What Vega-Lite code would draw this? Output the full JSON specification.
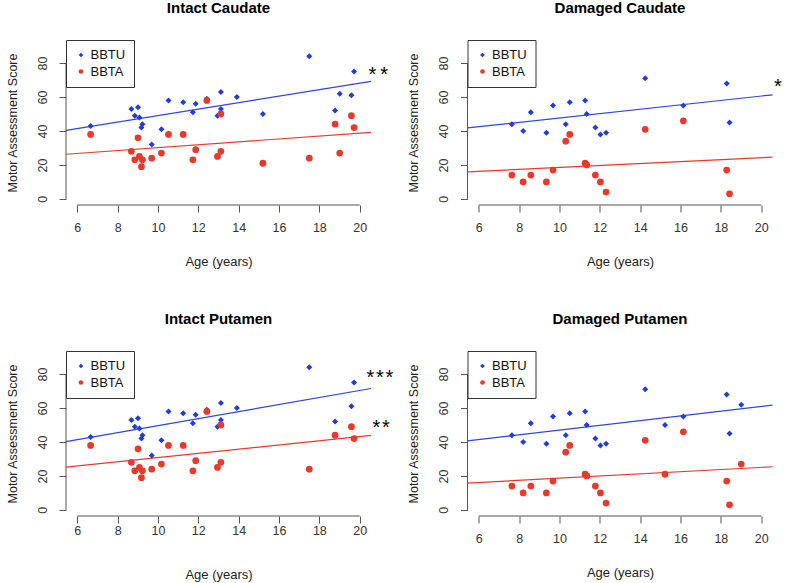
{
  "$schema": "https://vega.github.io/schema/vega-lite/v6.json",
  "padding": {"left": 5, "top": 1, "right": 2, "bottom": 2},
  "background": "white",
  "datasets": {
    "pts": [
      {"panel": "Intact Caudate", "group": "BBTU", "age": 6.66, "score": 43},
      {"panel": "Intact Caudate", "group": "BBTU", "age": 8.68, "score": 53},
      {"panel": "Intact Caudate", "group": "BBTU", "age": 8.85, "score": 49},
      {"panel": "Intact Caudate", "group": "BBTU", "age": 9.01, "score": 54},
      {"panel": "Intact Caudate", "group": "BBTU", "age": 9.08, "score": 48},
      {"panel": "Intact Caudate", "group": "BBTU", "age": 9.18, "score": 42},
      {"panel": "Intact Caudate", "group": "BBTU", "age": 9.23, "score": 44},
      {"panel": "Intact Caudate", "group": "BBTU", "age": 9.69, "score": 32},
      {"panel": "Intact Caudate", "group": "BBTU", "age": 10.17, "score": 41},
      {"panel": "Intact Caudate", "group": "BBTU", "age": 10.52, "score": 58},
      {"panel": "Intact Caudate", "group": "BBTU", "age": 11.25, "score": 57},
      {"panel": "Intact Caudate", "group": "BBTU", "age": 11.73, "score": 51},
      {"panel": "Intact Caudate", "group": "BBTU", "age": 11.87, "score": 56},
      {"panel": "Intact Caudate", "group": "BBTU", "age": 12.42, "score": 59},
      {"panel": "Intact Caudate", "group": "BBTU", "age": 12.95, "score": 49},
      {"panel": "Intact Caudate", "group": "BBTU", "age": 13.12, "score": 63},
      {"panel": "Intact Caudate", "group": "BBTU", "age": 13.12, "score": 53},
      {"panel": "Intact Caudate", "group": "BBTU", "age": 13.91, "score": 60},
      {"panel": "Intact Caudate", "group": "BBTU", "age": 15.2, "score": 50},
      {"panel": "Intact Caudate", "group": "BBTU", "age": 17.5, "score": 84},
      {"panel": "Intact Caudate", "group": "BBTU", "age": 18.78, "score": 52},
      {"panel": "Intact Caudate", "group": "BBTU", "age": 19.01, "score": 62},
      {"panel": "Intact Caudate", "group": "BBTU", "age": 19.59, "score": 61},
      {"panel": "Intact Caudate", "group": "BBTU", "age": 19.72, "score": 75},
      {"panel": "Intact Caudate", "group": "BBTA", "age": 6.66, "score": 38},
      {"panel": "Intact Caudate", "group": "BBTA", "age": 8.68, "score": 28},
      {"panel": "Intact Caudate", "group": "BBTA", "age": 8.85, "score": 23},
      {"panel": "Intact Caudate", "group": "BBTA", "age": 9.01, "score": 36},
      {"panel": "Intact Caudate", "group": "BBTA", "age": 9.08, "score": 25},
      {"panel": "Intact Caudate", "group": "BBTA", "age": 9.18, "score": 19},
      {"panel": "Intact Caudate", "group": "BBTA", "age": 9.23, "score": 23},
      {"panel": "Intact Caudate", "group": "BBTA", "age": 9.69, "score": 24},
      {"panel": "Intact Caudate", "group": "BBTA", "age": 10.17, "score": 27},
      {"panel": "Intact Caudate", "group": "BBTA", "age": 10.52, "score": 38},
      {"panel": "Intact Caudate", "group": "BBTA", "age": 11.25, "score": 38},
      {"panel": "Intact Caudate", "group": "BBTA", "age": 11.73, "score": 23},
      {"panel": "Intact Caudate", "group": "BBTA", "age": 11.87, "score": 29},
      {"panel": "Intact Caudate", "group": "BBTA", "age": 12.42, "score": 58},
      {"panel": "Intact Caudate", "group": "BBTA", "age": 12.95, "score": 25},
      {"panel": "Intact Caudate", "group": "BBTA", "age": 13.12, "score": 50},
      {"panel": "Intact Caudate", "group": "BBTA", "age": 13.12, "score": 28},
      {"panel": "Intact Caudate", "group": "BBTA", "age": 15.2, "score": 21},
      {"panel": "Intact Caudate", "group": "BBTA", "age": 17.5, "score": 24},
      {"panel": "Intact Caudate", "group": "BBTA", "age": 18.78, "score": 44},
      {"panel": "Intact Caudate", "group": "BBTA", "age": 19.01, "score": 27},
      {"panel": "Intact Caudate", "group": "BBTA", "age": 19.59, "score": 49},
      {"panel": "Intact Caudate", "group": "BBTA", "age": 19.72, "score": 42},

      {"panel": "Damaged Caudate", "group": "BBTU", "age": 7.64, "score": 44},
      {"panel": "Damaged Caudate", "group": "BBTU", "age": 8.2, "score": 40},
      {"panel": "Damaged Caudate", "group": "BBTU", "age": 8.58, "score": 51},
      {"panel": "Damaged Caudate", "group": "BBTU", "age": 9.35, "score": 39},
      {"panel": "Damaged Caudate", "group": "BBTU", "age": 9.68, "score": 55},
      {"panel": "Damaged Caudate", "group": "BBTU", "age": 10.31, "score": 44},
      {"panel": "Damaged Caudate", "group": "BBTU", "age": 10.51, "score": 57},
      {"panel": "Damaged Caudate", "group": "BBTU", "age": 11.27, "score": 58},
      {"panel": "Damaged Caudate", "group": "BBTU", "age": 11.35, "score": 50},
      {"panel": "Damaged Caudate", "group": "BBTU", "age": 11.78, "score": 42},
      {"panel": "Damaged Caudate", "group": "BBTU", "age": 12.03, "score": 38},
      {"panel": "Damaged Caudate", "group": "BBTU", "age": 12.31, "score": 39},
      {"panel": "Damaged Caudate", "group": "BBTU", "age": 14.25, "score": 71},
      {"panel": "Damaged Caudate", "group": "BBTU", "age": 16.14, "score": 55},
      {"panel": "Damaged Caudate", "group": "BBTU", "age": 18.29, "score": 68},
      {"panel": "Damaged Caudate", "group": "BBTU", "age": 18.43, "score": 45},
      {"panel": "Damaged Caudate", "group": "BBTA", "age": 7.64, "score": 14},
      {"panel": "Damaged Caudate", "group": "BBTA", "age": 8.2, "score": 10},
      {"panel": "Damaged Caudate", "group": "BBTA", "age": 8.58, "score": 14},
      {"panel": "Damaged Caudate", "group": "BBTA", "age": 9.35, "score": 10},
      {"panel": "Damaged Caudate", "group": "BBTA", "age": 9.68, "score": 17},
      {"panel": "Damaged Caudate", "group": "BBTA", "age": 10.31, "score": 34},
      {"panel": "Damaged Caudate", "group": "BBTA", "age": 10.51, "score": 38},
      {"panel": "Damaged Caudate", "group": "BBTA", "age": 11.27, "score": 21},
      {"panel": "Damaged Caudate", "group": "BBTA", "age": 11.35, "score": 20},
      {"panel": "Damaged Caudate", "group": "BBTA", "age": 11.78, "score": 14},
      {"panel": "Damaged Caudate", "group": "BBTA", "age": 12.03, "score": 10},
      {"panel": "Damaged Caudate", "group": "BBTA", "age": 12.31, "score": 4},
      {"panel": "Damaged Caudate", "group": "BBTA", "age": 14.25, "score": 41},
      {"panel": "Damaged Caudate", "group": "BBTA", "age": 16.14, "score": 46},
      {"panel": "Damaged Caudate", "group": "BBTA", "age": 18.29, "score": 17},
      {"panel": "Damaged Caudate", "group": "BBTA", "age": 18.43, "score": 3},

      {"panel": "Intact Putamen", "group": "BBTU", "age": 6.66, "score": 43},
      {"panel": "Intact Putamen", "group": "BBTU", "age": 8.68, "score": 53},
      {"panel": "Intact Putamen", "group": "BBTU", "age": 8.85, "score": 49},
      {"panel": "Intact Putamen", "group": "BBTU", "age": 9.01, "score": 54},
      {"panel": "Intact Putamen", "group": "BBTU", "age": 9.08, "score": 48},
      {"panel": "Intact Putamen", "group": "BBTU", "age": 9.18, "score": 42},
      {"panel": "Intact Putamen", "group": "BBTU", "age": 9.23, "score": 44},
      {"panel": "Intact Putamen", "group": "BBTU", "age": 9.69, "score": 32},
      {"panel": "Intact Putamen", "group": "BBTU", "age": 10.17, "score": 41},
      {"panel": "Intact Putamen", "group": "BBTU", "age": 10.52, "score": 58},
      {"panel": "Intact Putamen", "group": "BBTU", "age": 11.25, "score": 57},
      {"panel": "Intact Putamen", "group": "BBTU", "age": 11.73, "score": 51},
      {"panel": "Intact Putamen", "group": "BBTU", "age": 11.87, "score": 56},
      {"panel": "Intact Putamen", "group": "BBTU", "age": 12.42, "score": 59},
      {"panel": "Intact Putamen", "group": "BBTU", "age": 12.95, "score": 49},
      {"panel": "Intact Putamen", "group": "BBTU", "age": 13.12, "score": 63},
      {"panel": "Intact Putamen", "group": "BBTU", "age": 13.12, "score": 53},
      {"panel": "Intact Putamen", "group": "BBTU", "age": 13.91, "score": 60},
      {"panel": "Intact Putamen", "group": "BBTU", "age": 17.5, "score": 84},
      {"panel": "Intact Putamen", "group": "BBTU", "age": 18.78, "score": 52},
      {"panel": "Intact Putamen", "group": "BBTU", "age": 19.59, "score": 61},
      {"panel": "Intact Putamen", "group": "BBTU", "age": 19.72, "score": 75},
      {"panel": "Intact Putamen", "group": "BBTA", "age": 6.66, "score": 38},
      {"panel": "Intact Putamen", "group": "BBTA", "age": 8.68, "score": 28},
      {"panel": "Intact Putamen", "group": "BBTA", "age": 8.85, "score": 23},
      {"panel": "Intact Putamen", "group": "BBTA", "age": 9.01, "score": 36},
      {"panel": "Intact Putamen", "group": "BBTA", "age": 9.08, "score": 25},
      {"panel": "Intact Putamen", "group": "BBTA", "age": 9.18, "score": 19},
      {"panel": "Intact Putamen", "group": "BBTA", "age": 9.23, "score": 23},
      {"panel": "Intact Putamen", "group": "BBTA", "age": 9.69, "score": 24},
      {"panel": "Intact Putamen", "group": "BBTA", "age": 10.17, "score": 27},
      {"panel": "Intact Putamen", "group": "BBTA", "age": 10.52, "score": 38},
      {"panel": "Intact Putamen", "group": "BBTA", "age": 11.25, "score": 38},
      {"panel": "Intact Putamen", "group": "BBTA", "age": 11.73, "score": 23},
      {"panel": "Intact Putamen", "group": "BBTA", "age": 11.87, "score": 29},
      {"panel": "Intact Putamen", "group": "BBTA", "age": 12.42, "score": 58},
      {"panel": "Intact Putamen", "group": "BBTA", "age": 12.95, "score": 25},
      {"panel": "Intact Putamen", "group": "BBTA", "age": 13.12, "score": 50},
      {"panel": "Intact Putamen", "group": "BBTA", "age": 13.12, "score": 28},
      {"panel": "Intact Putamen", "group": "BBTA", "age": 17.5, "score": 24},
      {"panel": "Intact Putamen", "group": "BBTA", "age": 18.78, "score": 44},
      {"panel": "Intact Putamen", "group": "BBTA", "age": 19.59, "score": 49},
      {"panel": "Intact Putamen", "group": "BBTA", "age": 19.72, "score": 42},

      {"panel": "Damaged Putamen", "group": "BBTU", "age": 7.64, "score": 44},
      {"panel": "Damaged Putamen", "group": "BBTU", "age": 8.2, "score": 40},
      {"panel": "Damaged Putamen", "group": "BBTU", "age": 8.58, "score": 51},
      {"panel": "Damaged Putamen", "group": "BBTU", "age": 9.35, "score": 39},
      {"panel": "Damaged Putamen", "group": "BBTU", "age": 9.68, "score": 55},
      {"panel": "Damaged Putamen", "group": "BBTU", "age": 10.31, "score": 44},
      {"panel": "Damaged Putamen", "group": "BBTU", "age": 10.51, "score": 57},
      {"panel": "Damaged Putamen", "group": "BBTU", "age": 11.27, "score": 58},
      {"panel": "Damaged Putamen", "group": "BBTU", "age": 11.35, "score": 50},
      {"panel": "Damaged Putamen", "group": "BBTU", "age": 11.78, "score": 42},
      {"panel": "Damaged Putamen", "group": "BBTU", "age": 12.03, "score": 38},
      {"panel": "Damaged Putamen", "group": "BBTU", "age": 12.31, "score": 39},
      {"panel": "Damaged Putamen", "group": "BBTU", "age": 14.25, "score": 71},
      {"panel": "Damaged Putamen", "group": "BBTU", "age": 15.23, "score": 50},
      {"panel": "Damaged Putamen", "group": "BBTU", "age": 16.14, "score": 55},
      {"panel": "Damaged Putamen", "group": "BBTU", "age": 18.29, "score": 68},
      {"panel": "Damaged Putamen", "group": "BBTU", "age": 18.43, "score": 45},
      {"panel": "Damaged Putamen", "group": "BBTU", "age": 19.01, "score": 62},
      {"panel": "Damaged Putamen", "group": "BBTA", "age": 7.64, "score": 14},
      {"panel": "Damaged Putamen", "group": "BBTA", "age": 8.2, "score": 10},
      {"panel": "Damaged Putamen", "group": "BBTA", "age": 8.58, "score": 14},
      {"panel": "Damaged Putamen", "group": "BBTA", "age": 9.35, "score": 10},
      {"panel": "Damaged Putamen", "group": "BBTA", "age": 9.68, "score": 17},
      {"panel": "Damaged Putamen", "group": "BBTA", "age": 10.31, "score": 34},
      {"panel": "Damaged Putamen", "group": "BBTA", "age": 10.51, "score": 38},
      {"panel": "Damaged Putamen", "group": "BBTA", "age": 11.27, "score": 21},
      {"panel": "Damaged Putamen", "group": "BBTA", "age": 11.35, "score": 20},
      {"panel": "Damaged Putamen", "group": "BBTA", "age": 11.78, "score": 14},
      {"panel": "Damaged Putamen", "group": "BBTA", "age": 12.03, "score": 10},
      {"panel": "Damaged Putamen", "group": "BBTA", "age": 12.31, "score": 4},
      {"panel": "Damaged Putamen", "group": "BBTA", "age": 14.25, "score": 41},
      {"panel": "Damaged Putamen", "group": "BBTA", "age": 15.23, "score": 21},
      {"panel": "Damaged Putamen", "group": "BBTA", "age": 16.14, "score": 46},
      {"panel": "Damaged Putamen", "group": "BBTA", "age": 18.29, "score": 17},
      {"panel": "Damaged Putamen", "group": "BBTA", "age": 18.43, "score": 3},
      {"panel": "Damaged Putamen", "group": "BBTA", "age": 19.01, "score": 27}
    ],
    "lines": [
      {"panel": "Intact Caudate", "group": "BBTU", "age": 5.44, "score": 40.4},
      {"panel": "Intact Caudate", "group": "BBTU", "age": 20.56, "score": 69.2},
      {"panel": "Intact Caudate", "group": "BBTA", "age": 5.44, "score": 26.3},
      {"panel": "Intact Caudate", "group": "BBTA", "age": 20.56, "score": 39.2},
      {"panel": "Damaged Caudate", "group": "BBTU", "age": 5.44, "score": 41.8},
      {"panel": "Damaged Caudate", "group": "BBTU", "age": 20.56, "score": 61.3},
      {"panel": "Damaged Caudate", "group": "BBTA", "age": 5.44, "score": 15.9},
      {"panel": "Damaged Caudate", "group": "BBTA", "age": 20.56, "score": 24.6},
      {"panel": "Intact Putamen", "group": "BBTU", "age": 5.44, "score": 40.2},
      {"panel": "Intact Putamen", "group": "BBTU", "age": 20.56, "score": 71.5},
      {"panel": "Intact Putamen", "group": "BBTA", "age": 5.44, "score": 25.2},
      {"panel": "Intact Putamen", "group": "BBTA", "age": 20.56, "score": 43.9},
      {"panel": "Damaged Putamen", "group": "BBTU", "age": 5.44, "score": 40.6},
      {"panel": "Damaged Putamen", "group": "BBTU", "age": 20.56, "score": 61.7},
      {"panel": "Damaged Putamen", "group": "BBTA", "age": 5.44, "score": 15.8},
      {"panel": "Damaged Putamen", "group": "BBTA", "age": 20.56, "score": 25.4}
    ],
    "stars": [
      {"panel": "Intact Caudate", "label": "*\u2009*", "age": 20.92, "score": 69.2},
      {"panel": "Damaged Caudate", "label": "*", "age": 20.83, "score": 62.5},
      {"panel": "Intact Putamen", "label": "*\u200a*\u200a*", "age": 21.0, "score": 74.3},
      {"panel": "Intact Putamen", "label": "*\u200a*", "age": 21.06, "score": 44.5}
    ]
  },
  "columns": 2,
  "spacing": {"row": 146, "column": 96.5},
  "bounds": "flush",
  "resolve": {
    "scale": {"x": "independent", "y": "independent", "color": "independent", "shape": "independent"},
    "legend": {"color": "independent", "shape": "independent"}
  },
  "concat": [
    {
      "width": 305, "height": 165,
      "title": "Intact Caudate",
      "layer": [
        {"data": {"values": [{}]}, "mark": {"type": "rule", "color": "#555", "strokeWidth": 1},
         "encoding": {"x": {"datum": 6, "type": "quantitative", "scale": {"domain": [5.44, 20.56], "nice": false, "zero": false}, "axis": {"title": "Age (years)", "values": [6, 8, 10, 12, 14, 16, 18, 20]}}, "x2": {"datum": 20}, "y": {"datum": -3.6, "type": "quantitative", "scale": {"domain": [-3.6, 93.6], "nice": false, "zero": false}, "axis": {"title": "Motor Assessment Score", "values": [0, 20, 40, 60, 80]}}}},
        {"data": {"values": [{}]}, "mark": {"type": "rule", "color": "#555", "strokeWidth": 1},
         "encoding": {"x": {"datum": 5.44, "type": "quantitative"}, "y": {"datum": 0, "type": "quantitative"}, "y2": {"datum": 80}}},
        {"data": {"name": "lines"}, "transform": [{"filter": "datum.panel === 'Intact Caudate'"}],
         "mark": {"type": "line", "strokeWidth": 1.2},
         "encoding": {"x": {"field": "age", "type": "quantitative"}, "y": {"field": "score", "type": "quantitative"}, "detail": {"field": "group"},
           "color": {"condition": {"test": "datum.group === 'BBTU'", "value": "#2f45e0"}, "value": "#e63a2c"}}},
        {"data": {"name": "pts"}, "transform": [{"filter": "datum.panel === 'Intact Caudate'"}],
         "mark": {"type": "point", "filled": true, "opacity": 1, "strokeWidth": 0},
         "encoding": {"x": {"field": "age", "type": "quantitative"}, "y": {"field": "score", "type": "quantitative"},
           "color": {"field": "group", "type": "nominal", "scale": {"domain": ["BBTU", "BBTA"], "range": ["#1f3ae6", "#e8392b"]}, "legend": {"title": null}},
           "shape": {"field": "group", "type": "nominal", "scale": {"domain": ["BBTU", "BBTA"], "range": ["diamond", "circle"]}, "legend": {"title": null}},
           "size": {"condition": {"test": "datum.group === 'BBTU'", "value": 36}, "value": 46}}},
        {"data": {"name": "stars"}, "transform": [{"filter": "datum.panel === 'Intact Caudate'"}],
         "mark": {"type": "text", "fontSize": 20, "align": "center", "baseline": "alphabetic", "color": "#000"},
         "encoding": {"x": {"field": "age", "type": "quantitative"}, "y": {"field": "score", "type": "quantitative"}, "text": {"field": "label"}}}
      ]
    },
    {
      "width": 305, "height": 165,
      "title": "Damaged Caudate",
      "layer": [
        {"data": {"values": [{}]}, "mark": {"type": "rule", "color": "#555", "strokeWidth": 1},
         "encoding": {"x": {"datum": 6, "type": "quantitative", "scale": {"domain": [5.44, 20.56], "nice": false, "zero": false}, "axis": {"title": "Age (years)", "values": [6, 8, 10, 12, 14, 16, 18, 20]}}, "x2": {"datum": 20}, "y": {"datum": -3.6, "type": "quantitative", "scale": {"domain": [-3.6, 93.6], "nice": false, "zero": false}, "axis": {"title": "Motor Assessment Score", "values": [0, 20, 40, 60, 80]}}}},
        {"data": {"values": [{}]}, "mark": {"type": "rule", "color": "#555", "strokeWidth": 1},
         "encoding": {"x": {"datum": 5.44, "type": "quantitative"}, "y": {"datum": 0, "type": "quantitative"}, "y2": {"datum": 80}}},
        {"data": {"name": "lines"}, "transform": [{"filter": "datum.panel === 'Damaged Caudate'"}],
         "mark": {"type": "line", "strokeWidth": 1.2},
         "encoding": {"x": {"field": "age", "type": "quantitative"}, "y": {"field": "score", "type": "quantitative"}, "detail": {"field": "group"},
           "color": {"condition": {"test": "datum.group === 'BBTU'", "value": "#2f45e0"}, "value": "#e63a2c"}}},
        {"data": {"name": "pts"}, "transform": [{"filter": "datum.panel === 'Damaged Caudate'"}],
         "mark": {"type": "point", "filled": true, "opacity": 1, "strokeWidth": 0},
         "encoding": {"x": {"field": "age", "type": "quantitative"}, "y": {"field": "score", "type": "quantitative"},
           "color": {"field": "group", "type": "nominal", "scale": {"domain": ["BBTU", "BBTA"], "range": ["#1f3ae6", "#e8392b"]}, "legend": {"title": null}},
           "shape": {"field": "group", "type": "nominal", "scale": {"domain": ["BBTU", "BBTA"], "range": ["diamond", "circle"]}, "legend": {"title": null}},
           "size": {"condition": {"test": "datum.group === 'BBTU'", "value": 36}, "value": 46}}},
        {"data": {"name": "stars"}, "transform": [{"filter": "datum.panel === 'Damaged Caudate'"}],
         "mark": {"type": "text", "fontSize": 20, "align": "center", "baseline": "alphabetic", "color": "#000"},
         "encoding": {"x": {"field": "age", "type": "quantitative"}, "y": {"field": "score", "type": "quantitative"}, "text": {"field": "label"}}}
      ]
    },
    {
      "width": 305, "height": 165,
      "title": "Intact Putamen",
      "layer": [
        {"data": {"values": [{}]}, "mark": {"type": "rule", "color": "#555", "strokeWidth": 1},
         "encoding": {"x": {"datum": 6, "type": "quantitative", "scale": {"domain": [5.44, 20.56], "nice": false, "zero": false}, "axis": {"title": "Age (years)", "values": [6, 8, 10, 12, 14, 16, 18, 20], "labelPadding": 1.6, "titlePadding": 31}}, "x2": {"datum": 20}, "y": {"datum": -3.6, "type": "quantitative", "scale": {"domain": [-3.6, 93.6], "nice": false, "zero": false}, "axis": {"title": "Motor Assessment Score", "values": [0, 20, 40, 60, 80]}}}},
        {"data": {"values": [{}]}, "mark": {"type": "rule", "color": "#555", "strokeWidth": 1},
         "encoding": {"x": {"datum": 5.44, "type": "quantitative"}, "y": {"datum": 0, "type": "quantitative"}, "y2": {"datum": 80}}},
        {"data": {"name": "lines"}, "transform": [{"filter": "datum.panel === 'Intact Putamen'"}],
         "mark": {"type": "line", "strokeWidth": 1.2},
         "encoding": {"x": {"field": "age", "type": "quantitative"}, "y": {"field": "score", "type": "quantitative"}, "detail": {"field": "group"},
           "color": {"condition": {"test": "datum.group === 'BBTU'", "value": "#2f45e0"}, "value": "#e63a2c"}}},
        {"data": {"name": "pts"}, "transform": [{"filter": "datum.panel === 'Intact Putamen'"}],
         "mark": {"type": "point", "filled": true, "opacity": 1, "strokeWidth": 0},
         "encoding": {"x": {"field": "age", "type": "quantitative"}, "y": {"field": "score", "type": "quantitative"},
           "color": {"field": "group", "type": "nominal", "scale": {"domain": ["BBTU", "BBTA"], "range": ["#1f3ae6", "#e8392b"]}, "legend": {"title": null}},
           "shape": {"field": "group", "type": "nominal", "scale": {"domain": ["BBTU", "BBTA"], "range": ["diamond", "circle"]}, "legend": {"title": null}},
           "size": {"condition": {"test": "datum.group === 'BBTU'", "value": 36}, "value": 46}}},
        {"data": {"name": "stars"}, "transform": [{"filter": "datum.panel === 'Intact Putamen'"}],
         "mark": {"type": "text", "fontSize": 20, "align": "center", "baseline": "alphabetic", "color": "#000"},
         "encoding": {"x": {"field": "age", "type": "quantitative"}, "y": {"field": "score", "type": "quantitative"}, "text": {"field": "label"}}}
      ]
    },
    {
      "width": 305, "height": 165,
      "title": "Damaged Putamen",
      "layer": [
        {"data": {"values": [{}]}, "mark": {"type": "rule", "color": "#555", "strokeWidth": 1},
         "encoding": {"x": {"datum": 6, "type": "quantitative", "scale": {"domain": [5.44, 20.56], "nice": false, "zero": false}, "axis": {"title": "Age (years)", "values": [6, 8, 10, 12, 14, 16, 18, 20]}}, "x2": {"datum": 20}, "y": {"datum": -3.6, "type": "quantitative", "scale": {"domain": [-3.6, 93.6], "nice": false, "zero": false}, "axis": {"title": "Motor Assessment Score", "values": [0, 20, 40, 60, 80]}}}},
        {"data": {"values": [{}]}, "mark": {"type": "rule", "color": "#555", "strokeWidth": 1},
         "encoding": {"x": {"datum": 5.44, "type": "quantitative"}, "y": {"datum": 0, "type": "quantitative"}, "y2": {"datum": 80}}},
        {"data": {"name": "lines"}, "transform": [{"filter": "datum.panel === 'Damaged Putamen'"}],
         "mark": {"type": "line", "strokeWidth": 1.2},
         "encoding": {"x": {"field": "age", "type": "quantitative"}, "y": {"field": "score", "type": "quantitative"}, "detail": {"field": "group"},
           "color": {"condition": {"test": "datum.group === 'BBTU'", "value": "#2f45e0"}, "value": "#e63a2c"}}},
        {"data": {"name": "pts"}, "transform": [{"filter": "datum.panel === 'Damaged Putamen'"}],
         "mark": {"type": "point", "filled": true, "opacity": 1, "strokeWidth": 0},
         "encoding": {"x": {"field": "age", "type": "quantitative"}, "y": {"field": "score", "type": "quantitative"},
           "color": {"field": "group", "type": "nominal", "scale": {"domain": ["BBTU", "BBTA"], "range": ["#1f3ae6", "#e8392b"]}, "legend": {"title": null}},
           "shape": {"field": "group", "type": "nominal", "scale": {"domain": ["BBTU", "BBTA"], "range": ["diamond", "circle"]}, "legend": {"title": null}},
           "size": {"condition": {"test": "datum.group === 'BBTU'", "value": 36}, "value": 46}}}
      ]
    }
  ],
  "config": {
    "font": "Liberation Sans",
    "view": {"stroke": null},
    "axis": {"domain": false, "grid": false, "ticks": true, "tickSize": 7, "tickColor": "#555", "tickWidth": 1,
      "labelFont": "Liberation Sans", "labelFontSize": 12.5, "labelColor": "#333",
      "titleFont": "Liberation Sans", "titleFontSize": 13, "titleFontWeight": "normal", "titleColor": "#222"},
    "axisX": {"labelPadding": 9.5, "titlePadding": 21, "labelAngle": 0},
    "axisY": {"labelAngle": -90, "labelAlign": "center", "labelBaseline": "bottom", "labelPadding": 10, "titlePadding": 17, "titleFontSize": 12.5},
    "title": {"font": "Liberation Sans", "fontSize": 15, "fontWeight": "bold", "color": "#000", "anchor": "middle", "frame": "group", "baseline": "alphabetic", "offset": 23.5},
    "legend": {"orient": "top-left", "offset": 0, "fillColor": "white", "strokeColor": "#333", "padding": 8.5,
      "labelFont": "Liberation Sans", "labelFontSize": 13, "labelColor": "#111", "symbolSize": 22, "symbolStrokeWidth": 0,
      "rowPadding": 2.5, "labelOffset": 3, "titlePadding": 0}
  }
}
